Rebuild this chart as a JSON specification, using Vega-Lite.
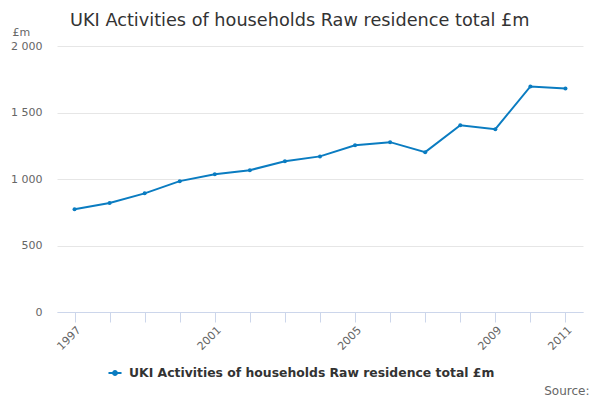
{
  "$schema": "https://vega.github.io/schema/vega-lite/v6.json",
  "autosize": "none",
  "width": 526,
  "height": 266,
  "padding": {"left": 57, "top": 46, "right": 17, "bottom": 88},
  "background": "white",
  "title": {
    "text": "UKI Activities of households Raw residence total £m",
    "anchor": "start",
    "frame": "group",
    "dx": 13,
    "dy": 21,
    "offset": 17,
    "fontSize": 17.7,
    "fontWeight": "normal",
    "font": "DejaVu Sans",
    "color": "#333333"
  },
  "data": {
    "values": [
      {"year": "1997", "value": 772, "series": "UKI Activities of households Raw residence total £m"},
      {"year": "1998", "value": 820, "series": "UKI Activities of households Raw residence total £m"},
      {"year": "1999", "value": 892, "series": "UKI Activities of households Raw residence total £m"},
      {"year": "2000", "value": 984, "series": "UKI Activities of households Raw residence total £m"},
      {"year": "2001", "value": 1035, "series": "UKI Activities of households Raw residence total £m"},
      {"year": "2002", "value": 1066, "series": "UKI Activities of households Raw residence total £m"},
      {"year": "2003", "value": 1134, "series": "UKI Activities of households Raw residence total £m"},
      {"year": "2004", "value": 1170, "series": "UKI Activities of households Raw residence total £m"},
      {"year": "2005", "value": 1254, "series": "UKI Activities of households Raw residence total £m"},
      {"year": "2006", "value": 1277, "series": "UKI Activities of households Raw residence total £m"},
      {"year": "2007", "value": 1202, "series": "UKI Activities of households Raw residence total £m"},
      {"year": "2008", "value": 1404, "series": "UKI Activities of households Raw residence total £m"},
      {"year": "2009", "value": 1375, "series": "UKI Activities of households Raw residence total £m"},
      {"year": "2010", "value": 1696, "series": "UKI Activities of households Raw residence total £m"},
      {"year": "2011", "value": 1681, "series": "UKI Activities of households Raw residence total £m"}
    ]
  },
  "mark": {"type": "line", "strokeWidth": 2, "point": {"size": 16, "filled": true}},
  "encoding": {
    "x": {
      "field": "year",
      "type": "ordinal",
      "scale": {"type": "point", "padding": 0.5},
      "axis": {
        "title": "Source:",
        "titleX": 532,
        "titleY": 78,
        "titleAlign": "right",
        "titleBaseline": "middle",
        "titleFont": "DejaVu Sans",
        "titleFontSize": 12,
        "titleFontWeight": "normal",
        "titleColor": "#666666",
        "labelAngle": -45,
        "labelAlign": "right",
        "labelBaseline": "top",
        "labelPadding": 2,
        "labelExpr": "indexof(['1997','2001','2005','2009','2011'], datum.value) >= 0 ? datum.value : ''",
        "labelFont": "DejaVu Sans",
        "labelFontSize": 11,
        "labelColor": "#666666",
        "domainColor": "#ccd6eb",
        "tickColor": "#ccd6eb",
        "tickSize": 10,
        "grid": false
      }
    },
    "y": {
      "field": "value",
      "type": "quantitative",
      "scale": {"domain": [0, 2000], "nice": false},
      "axis": {
        "title": "£m",
        "titleAngle": 0,
        "titleX": -45,
        "titleY": -14,
        "titleAlign": "left",
        "titleBaseline": "middle",
        "titleFont": "DejaVu Sans",
        "titleFontSize": 11,
        "titleFontWeight": "normal",
        "titleColor": "#666666",
        "values": [0, 500, 1000, 1500, 2000],
        "labelExpr": "replace(format(datum.value, ','), ',', ' ')",
        "labelFont": "DejaVu Sans",
        "labelFontSize": 11,
        "labelColor": "#666666",
        "labelPadding": 15,
        "ticks": false,
        "domain": false,
        "grid": true,
        "gridColor": "#e6e6e6"
      }
    },
    "color": {
      "field": "series",
      "type": "nominal",
      "scale": {"range": ["#0a7cc1"]},
      "legend": {
        "title": null,
        "orient": "none",
        "legendX": 50,
        "legendY": 319,
        "symbolType": "M-1,0H1M-0.3,0a0.3,0.3 0 1,0 0.6,0a0.3,0.3 0 1,0 -0.6,0",
        "symbolSize": 170,
        "symbolStrokeWidth": 2,
        "symbolFillColor": "#0a7cc1",
        "labelFont": "DejaVu Sans",
        "labelFontSize": 12.4,
        "labelFontWeight": "bold",
        "labelColor": "#333333",
        "labelLimit": 500,
        "labelOffset": 6
      }
    }
  },
  "config": {
    "view": {"stroke": null}
  }
}
